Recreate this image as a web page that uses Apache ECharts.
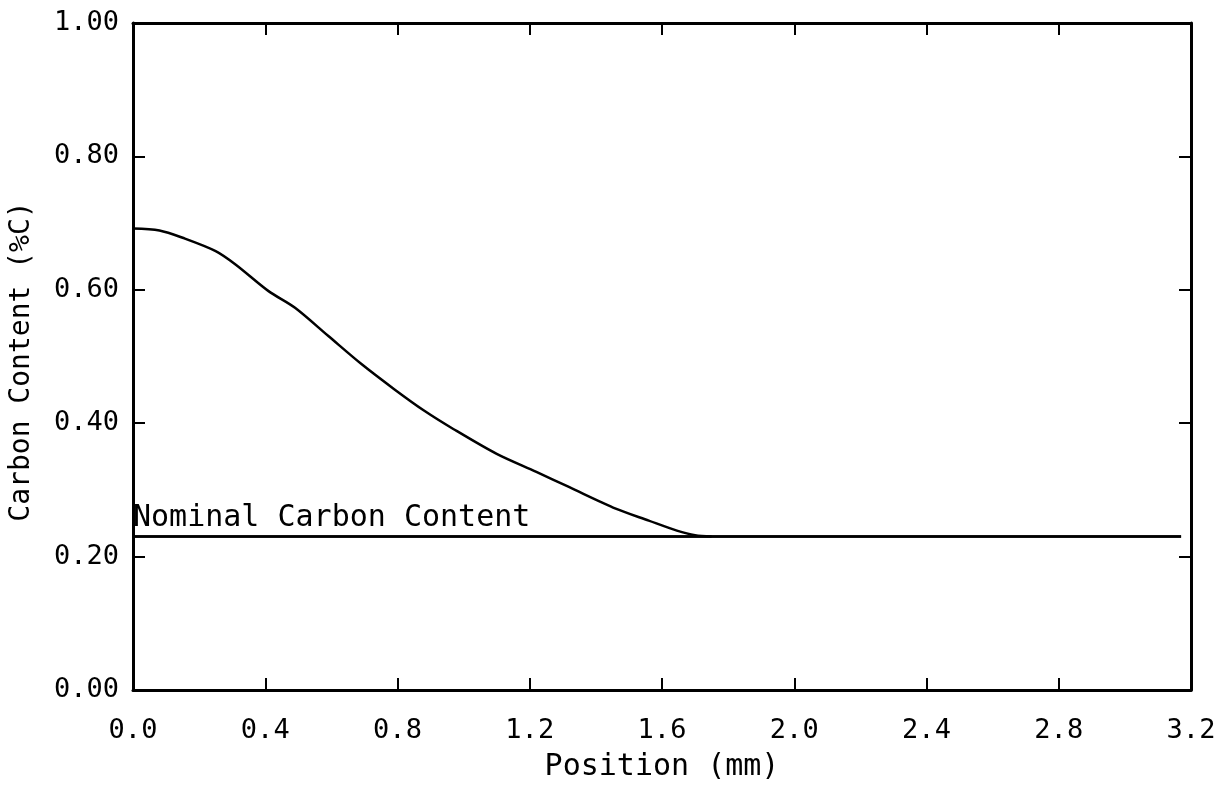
<!DOCTYPE html>
<html>
<head>
<meta charset="utf-8">
<script src="https://cdn.jsdelivr.net/npm/echarts@6/dist/echarts.min.js"></script>
<style>
html,body{margin:0;padding:0;background:#fff;}
#c{width:1229px;height:787px;}
</style>
</head>
<body>
<div id="c"></div>
<script>
// Data
const positionMM = [0, 0.08, 0.15, 0.25, 0.31, 0.41, 0.49, 0.59, 0.69, 0.79, 0.88, 0.97, 1.10, 1.22, 1.32, 1.46, 1.56, 1.645, 1.70, 1.75];
const carbonPct  = [0.692, 0.689, 0.678, 0.658, 0.638, 0.598, 0.573, 0.531, 0.489, 0.451, 0.419, 0.391, 0.354, 0.327, 0.304, 0.272, 0.254, 0.239, 0.232, 0.23];
const nominalX = [0, 3.17];
const nominalCarbon = 0.23;
const nominalLabel = 'Nominal Carbon Content';
const xTitle = 'Position (mm)';
const yTitle = 'Carbon Content (%C)';

const FONT = 'DejaVu Sans Mono';
const chart = echarts.init(document.getElementById('c'), null, {renderer: 'canvas'});

function axisCommon() {
  return {
    axisLine: {show: true, onZero: false, lineStyle: {color: '#000', width: 3}},
    axisTick: {show: true, inside: true, length: 12, lineStyle: {color: '#000', width: 2}},
    splitLine: {show: false}
  };
}

chart.setOption({
  animation: false,
  backgroundColor: '#fff',
  grid: {left: 133, right: 38, top: 23, bottom: 95, containLabel: false},
  xAxis: [
    Object.assign({
      type: 'value', position: 'bottom', min: 0, max: 3.2, interval: 0.4,
      name: xTitle, nameLocation: 'middle', nameGap: 62,
      nameTextStyle: {fontFamily: FONT, fontSize: 30, color: '#000'},
      axisLabel: {fontFamily: FONT, fontSize: 27, color: '#000', margin: 27,
        formatter: v => v.toFixed(1)}
    }, axisCommon()),
    Object.assign({
      type: 'value', position: 'top', min: 0, max: 3.2, interval: 0.4,
      axisLabel: {show: false}
    }, axisCommon())
  ],
  yAxis: [
    Object.assign({
      type: 'value', position: 'left', min: 0, max: 1, interval: 0.2,
      name: yTitle, nameLocation: 'middle', nameGap: 97, nameRotate: 90,
      nameTextStyle: {fontFamily: FONT, fontSize: 28, color: '#000', padding: [0, 10, 0, 0]},
      axisLabel: {fontFamily: FONT, fontSize: 27, color: '#000', margin: 14,
        formatter: v => v.toFixed(2)}
    }, axisCommon()),
    Object.assign({
      type: 'value', position: 'right', min: 0, max: 1, interval: 0.2,
      axisLabel: {show: false}
    }, axisCommon())
  ],
  series: [
    {
      type: 'line',
      data: positionMM.map((x, i) => [x, carbonPct[i]]),
      smooth: 0.3,
      showSymbol: false,
      lineStyle: {color: '#000', width: 2.5},
      silent: true
    },
    {
      type: 'line',
      data: nominalX.map(x => [x, nominalCarbon]),
      showSymbol: false,
      lineStyle: {color: '#000', width: 2.5},
      silent: true,
      markLine: {
        silent: true,
        symbol: 'none',
        animation: false,
        lineStyle: {color: '#000', width: 2.5, type: 'solid'},
        data: [[{coord: [nominalX[0], nominalCarbon]}, {coord: [nominalX[1], nominalCarbon]}]],
        label: {show: true, position: 'insideStartTop', distance: [0, 3],
          formatter: nominalLabel, fontFamily: FONT, fontSize: 30, color: '#000'}
      }
    }
  ]
});
</script>
</body>
</html>
